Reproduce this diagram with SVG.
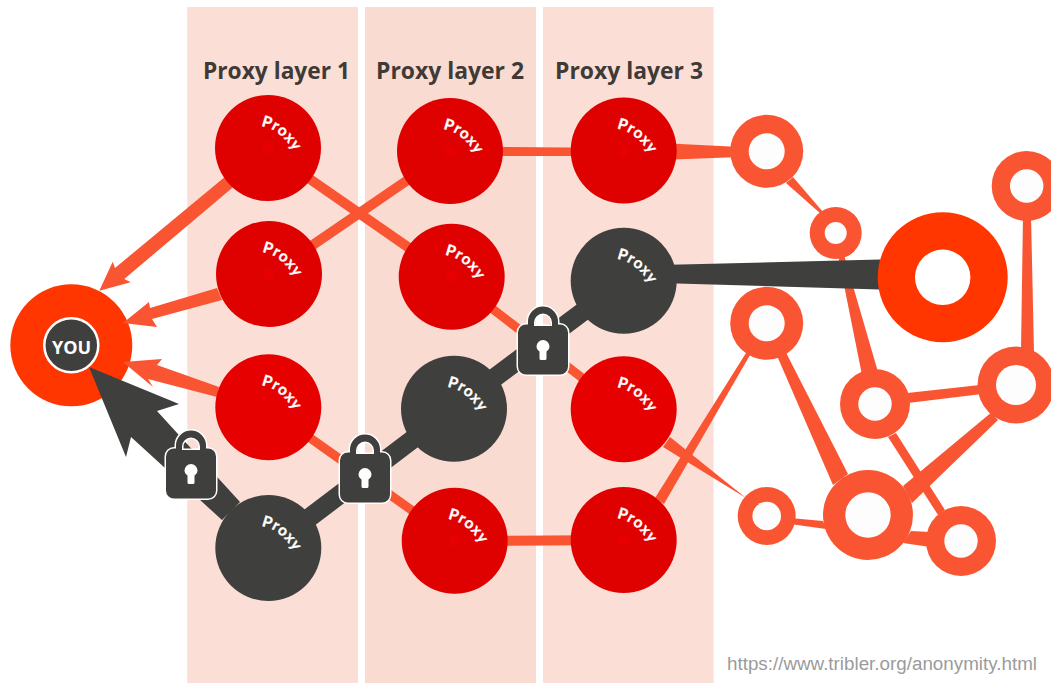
<svg xmlns="http://www.w3.org/2000/svg" width="1051" height="683" viewBox="0 0 1051 683">
<style>
.panel{fill:#fbded6}
.title{font:700 23px "Open Sans","Liberation Sans",sans-serif;fill:#3f3a36}
.plabel{font:700 15.500px Lato,"Open Sans",sans-serif;fill:#fff;stroke:#fff;stroke-width:.3px;letter-spacing:.7px}
.red{fill:#df0000}.bright{fill:#e60000}.dark{fill:#3f3f3d}
.dot{fill:#e60000}
.or{fill:#fa5532}.dk{fill:#3f3f3d}
.ol{stroke:#fa5532;fill:none}.dl{stroke:#3f3f3d;fill:none;stroke-width:19}
.ring{fill:#fa5532}.hole{fill:#fdfdfd}
.lock{fill:#3f3f3d;fill-rule:evenodd;stroke:#fff;stroke-width:3;paint-order:stroke}
.key{fill:#fff}
</style>
<defs>
<path id="arc" d="M-7 -22 C4 -20 15 -14 25 2"/>
<g id="lock">
<path class="lock" d="M-25 8A8 8 0 0 1-17 0H-15V-3A15 15 0 0 1 15-3V0H17A8 8 0 0 1 25 8V42A8 8 0 0 1 17 50H-17A8 8 0 0 1-25 42ZM-9 1.500H9V-2A9 9 0 0 0-9-2Z"/>
<path class="key" d="M-6.500 22A6.500 6.500 0 0 1 6.500 22C6.500 24 5 26 3.500 27V34A1.500 1.500 0 0 1 2 35.500H-2A1.500 1.500 0 0 1-3.500 34V27C-5 26-6.500 24-6.500 22Z"/>
</g>
</defs>
<rect width="1051" height="683" fill="#fff"/>
<g id="panels">
<rect class="panel" x="187.300" y="7" width="170.700" height="676"/>
<rect class="panel" x="365" y="7" width="171" height="676" style="fill:#fadbd2"/>
<rect class="panel" x="543" y="7" width="170.600" height="676"/>
</g>
<g id="you"><circle cx="71.300" cy="345.300" r="61" fill="#ff3600"/><circle cx="71.300" cy="345.300" r="27" fill="#3f3f3d" stroke="#fff" stroke-width="2.500"/><text x="71.500" y="354" text-anchor="middle" style="font:700 18px 'Open Sans','Liberation Sans',sans-serif;fill:#fff">YOU</text></g>
<g id="connectors">
<line class="ol" x1="268" y1="150" x2="451" y2="277" stroke-width="10"/>
<line class="ol" x1="269" y1="275" x2="450" y2="151" stroke-width="10"/>
<line class="ol" x1="451" y1="277" x2="624" y2="410" stroke-width="9"/>
<line class="ol" x1="268" y1="408" x2="455" y2="541" stroke-width="9"/>
<line class="ol" x1="455" y1="541" x2="624" y2="540" stroke-width="10"/>
<polygon class="or" points="450,146.500 624,148 624,156 450,156"/>
<polygon class="or" points="99.300,290.700 130.700,282.300 124.300,279 243,178.800 235,168.600 115,268 112.700,261.700"/>
<polygon class="or" points="123,323 157,327 152,319 222,300 217,288 150,308 149,302"/>
<polygon class="or" points="123,362 162,359 157,365 219,387 217,397 148,379 153,387"/>
<polygon class="or" points="660,143 740,147 740,157 660,160"/>
<polygon class="or" points="786,183 793,177 823,212 821,214"/>
<polygon class="or" points="838,255 844,255 878,372 862,375"/>
<polygon class="or" points="1023,215 1031,215 1034,352 1021,350"/>
<polygon class="or" points="905,393.300 910,402.700 982,394 980,385"/>
<polygon class="or" points="888,437 896,433 945,510 938,515"/>
<polygon class="or" points="990.700,413 998,420 912,503 903,486"/>
<polygon class="or" points="776.700,355 785.700,352 848,474 833,485"/>
<polygon class="or" points="746,353 750,355 664,504 655,498"/>
<polygon class="or" points="670,437 663,447 746,498"/>
<polygon class="or" points="790,518 790,524 826,529 823,521"/>
<polygon class="or" points="911,531 903,543 930,547 930,532"/>
<polyline class="dl" points="268,549 454,408 624,281"/>
<polygon class="dk" points="89,367 179,404 157,411 240,502 222,520 131,437 126,457"/>
<polygon class="dk" points="660,265 880,259.500 880,289.500 660,283"/>
</g>
<g id="layer1-title"><text class="title" x="203" y="79" textLength="147" lengthAdjust="spacingAndGlyphs">Proxy layer 1</text></g>
<g id="layer2-title"><text class="title" x="376" y="79" textLength="148" lengthAdjust="spacingAndGlyphs">Proxy layer 2</text></g>
<g id="layer3-title"><text class="title" x="555" y="79" textLength="148" lengthAdjust="spacingAndGlyphs">Proxy layer 3</text></g>
<g id="proxy-1-1" transform="translate(268,148)"><circle class="red" r="53"/><circle class="dot" r="6"/><text class="plabel"><textPath href="#arc">Proxy</textPath></text></g>
<g id="proxy-1-2" transform="translate(269,274)"><circle class="red" r="53"/><circle class="dot" r="6"/><text class="plabel"><textPath href="#arc">Proxy</textPath></text></g>
<g id="proxy-1-3" transform="translate(268.300,407.300)"><circle class="bright" r="53"/><text class="plabel"><textPath href="#arc">Proxy</textPath></text></g>
<g id="proxy-1-4" transform="translate(268.300,548)"><circle class="dark" r="53"/><text class="plabel"><textPath href="#arc">Proxy</textPath></text></g>
<g id="proxy-2-1" transform="translate(450,151)"><circle class="red" r="53"/><circle class="dot" r="6"/><text class="plabel"><textPath href="#arc">Proxy</textPath></text></g>
<g id="proxy-2-2" transform="translate(451.700,276.700)"><circle class="red" r="53"/><circle class="dot" r="6"/><text class="plabel"><textPath href="#arc">Proxy</textPath></text></g>
<g id="proxy-2-3" transform="translate(454,408.700)"><circle class="dark" r="53"/><text class="plabel"><textPath href="#arc">Proxy</textPath></text></g>
<g id="proxy-2-4" transform="translate(454.700,540.700)"><circle class="red" r="53"/><circle class="dot" r="6"/><text class="plabel"><textPath href="#arc">Proxy</textPath></text></g>
<g id="proxy-3-1" transform="translate(623.700,150.500)"><circle class="red" r="53"/><circle class="dot" r="6"/><text class="plabel"><textPath href="#arc">Proxy</textPath></text></g>
<g id="proxy-3-2" transform="translate(623.700,280.700)"><circle class="dark" r="53"/><text class="plabel"><textPath href="#arc">Proxy</textPath></text></g>
<g id="proxy-3-3" transform="translate(623.700,409.300)"><circle class="bright" r="53"/><text class="plabel"><textPath href="#arc">Proxy</textPath></text></g>
<g id="proxy-3-4" transform="translate(623.700,540)"><circle class="red" r="53"/><circle class="dot" r="6"/><text class="plabel"><textPath href="#arc">Proxy</textPath></text></g>
<g id="lock-1"><use href="#lock" x="191" y="448.500"/></g>
<g id="lock-2"><use href="#lock" x="365" y="452.500"/></g>
<g id="lock-3"><use href="#lock" x="543" y="324.500"/></g>
<g id="peer-1"><circle class="ring" cx="766.700" cy="151.300" r="36.500"/><circle class="hole" cx="766.700" cy="151.300" r="18"/></g>
<g id="peer-2"><circle class="ring" cx="835.700" cy="233" r="26"/><circle class="hole" cx="835.700" cy="233" r="11"/></g>
<g id="destination"><circle cx="942.700" cy="277.300" r="65" fill="#ff3600"/><circle cx="942.700" cy="277.300" r="27.700" fill="#fff"/></g>
<g id="peer-4"><circle class="ring" cx="1026.700" cy="186" r="35"/><circle class="hole" cx="1026.700" cy="186" r="16.700"/></g>
<g id="peer-5"><circle class="ring" cx="766.700" cy="323.300" r="36.500"/><circle class="hole" cx="766.700" cy="323.300" r="18"/></g>
<g id="peer-6"><circle class="ring" cx="875" cy="404" r="35"/><circle class="hole" cx="875" cy="404" r="16.700"/></g>
<g id="peer-7"><circle class="ring" cx="1016" cy="385" r="38.500"/><circle class="hole" cx="1016" cy="385" r="20"/></g>
<g id="peer-8"><circle class="ring" cx="766.700" cy="516" r="29"/><circle class="hole" cx="766.700" cy="516" r="14.300"/></g>
<g id="peer-9"><circle class="ring" cx="868" cy="515" r="45"/><circle class="hole" cx="868" cy="515" r="22.700"/></g>
<g id="peer-10"><circle class="ring" cx="961" cy="541" r="35"/><circle class="hole" cx="961" cy="541" r="16.700"/></g>
<g id="source-url"><text x="727" y="670" style="font:18px 'Liberation Sans',Arial,sans-serif;fill:#9b9b9b" textLength="310" lengthAdjust="spacingAndGlyphs">https://www.tribler.org/anonymity.html</text></g>
</svg>
